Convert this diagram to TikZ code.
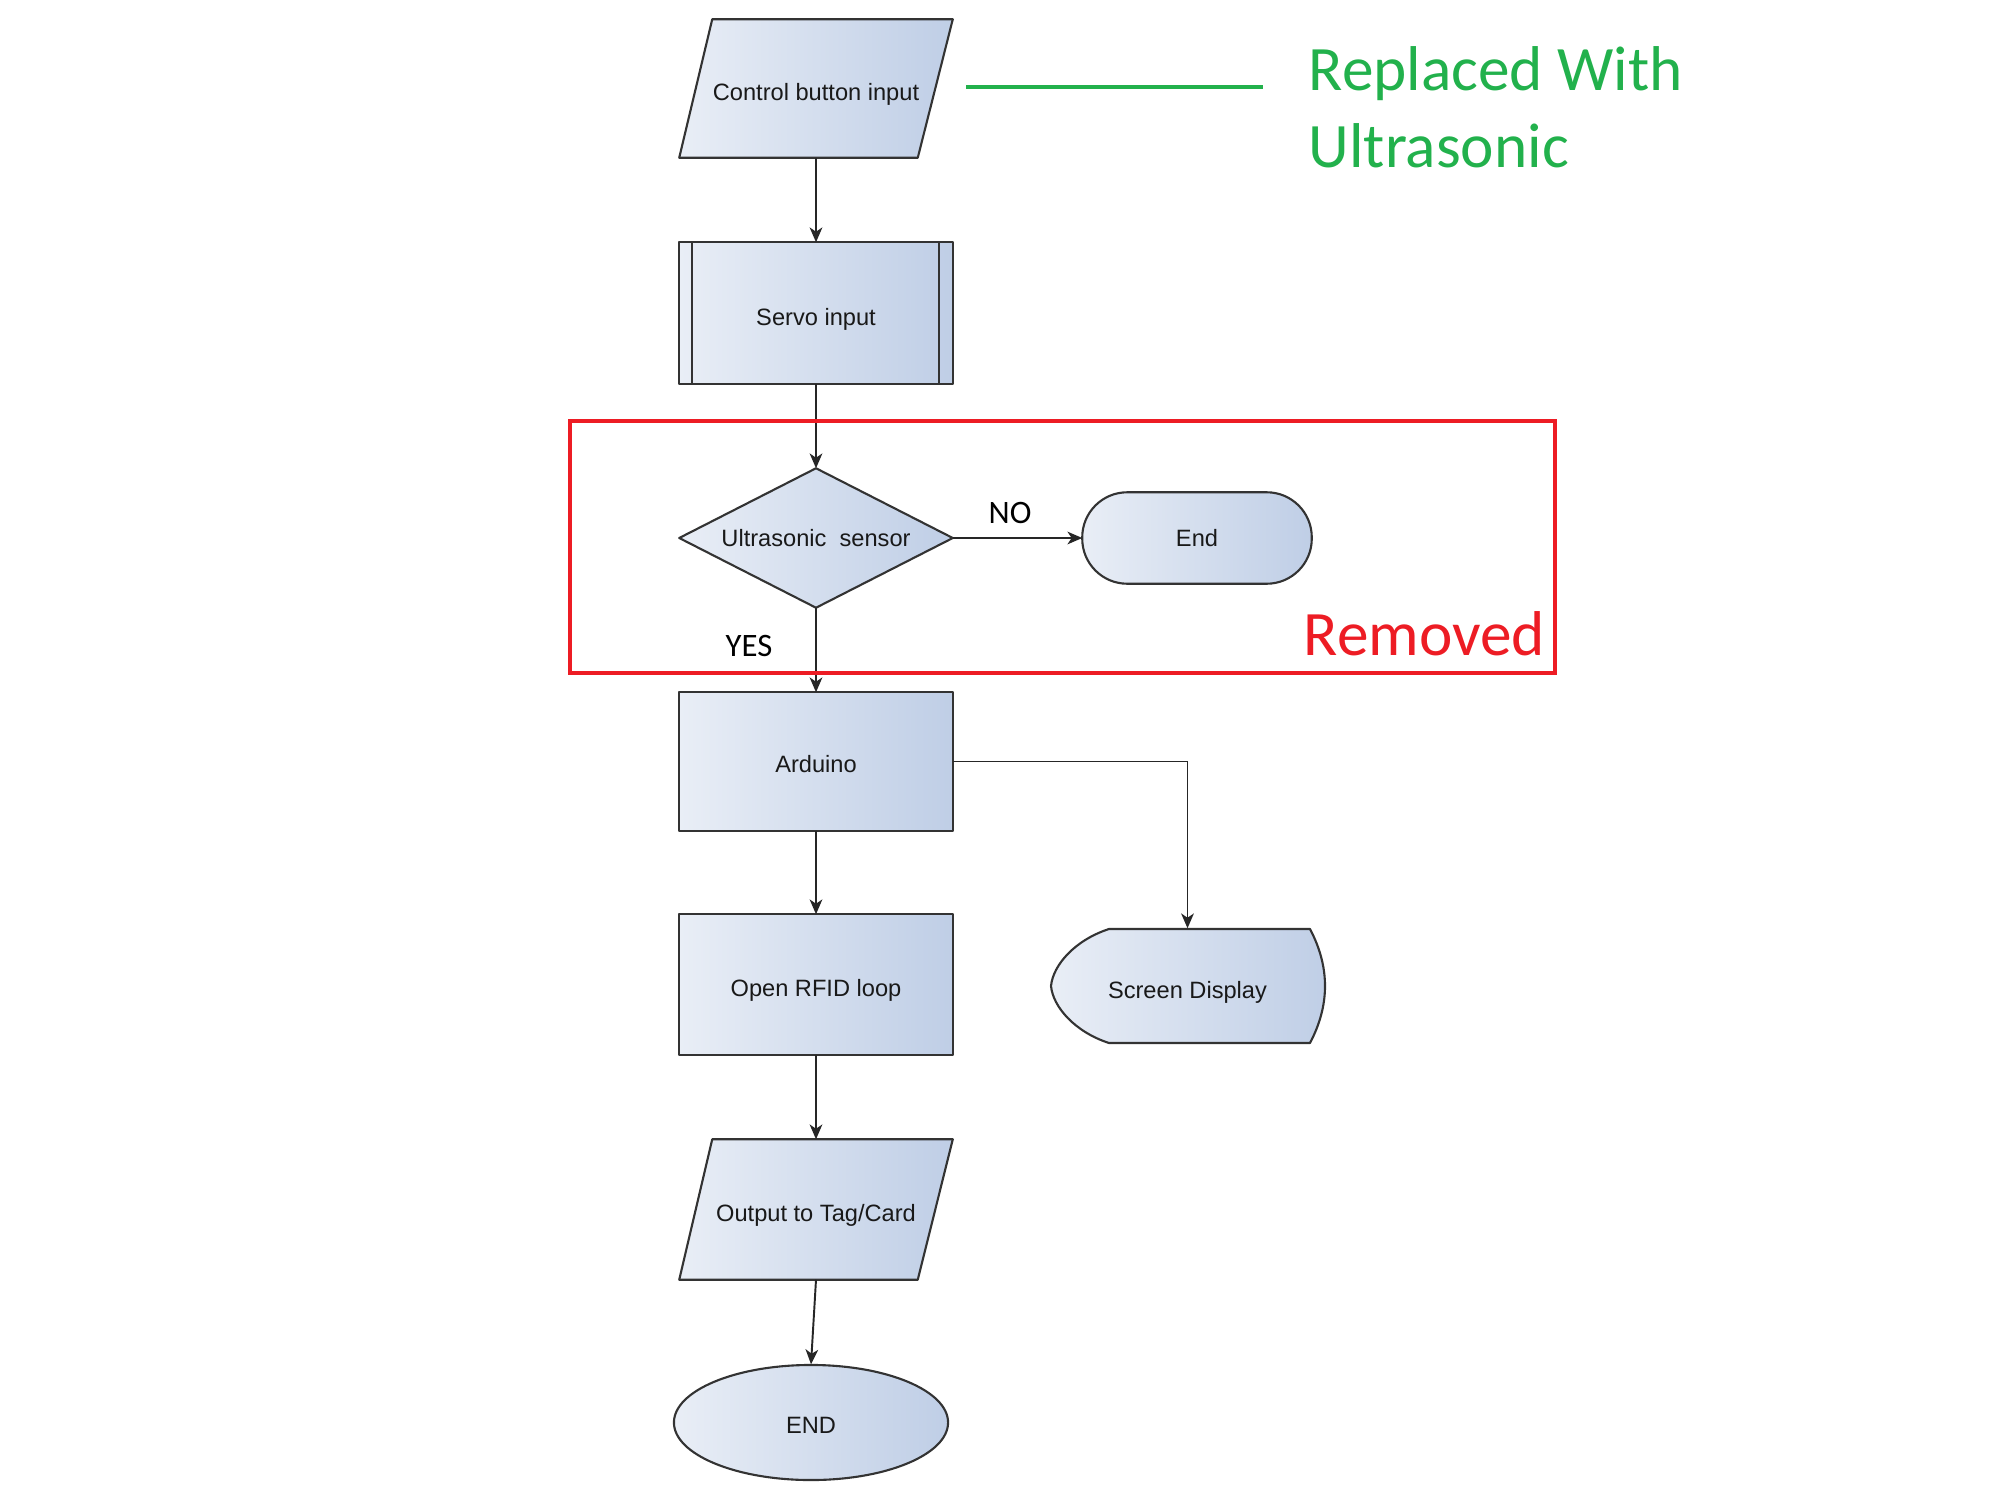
\documentclass[tikz,border=0pt]{standalone}
\usepackage{fontspec}
\setmainfont{Liberation Sans}
\newfontfamily\calib{Carlito}
\usetikzlibrary{arrows.meta,backgrounds,calc}
\definecolor{cL}{HTML}{E9EEF6}
\definecolor{cR}{HTML}{BFCEE6}
\definecolor{cS}{HTML}{333333}
\definecolor{pgreen}{HTML}{22B14C}
\definecolor{pred}{HTML}{ED1C24}
\tikzset{
  lbl/.style={font=\fontsize{6.72}{8}\selectfont, text=black!90, inner sep=0pt, draw=none, rectangle, text height=7pt, text depth=0pt},
  shp/.style={left color=cL, right color=cR, draw=cS, line width=0.6pt, line join=round},
  conn/.style={draw=black!85, line width=0.55pt, -{Stealth[length=4.2pt,width=3.6pt,inset=1.2pt]}},
  yn/.style={font=\calib\fontsize{9.3}{11}\selectfont, inner sep=0pt, text=black},
  note/.style={font=\calib\fontsize{18}{22}\selectfont, anchor=base west, inner sep=0pt},
}
\begin{document}
\begin{tikzpicture}[x=0.01cm,y=-0.01cm]
\useasboundingbox (0,0) rectangle (2000,1500);
% text nodes (bounding boxes of the shapes)
\node[lbl, minimum width=2.72cm, minimum height=1.37cm] (cbi)  at (816,88.5)   {Control button input};
\node[lbl, minimum width=2.72cm, minimum height=1.40cm] (srv)  at (816,313)    {Servo input};
\node[lbl, minimum width=2.72cm, minimum height=1.38cm, text height=5pt] (sens) at (816,538)    {Ultrasonic\ \ sensor};
\node[lbl, minimum width=2.28cm, minimum height=0.90cm, text height=5pt] (endA) at (1197,538)   {End};
\node[lbl, minimum width=2.72cm, minimum height=1.37cm, text height=6.5pt] (ard)  at (816,761.5)  {Arduino};
\node[lbl, minimum width=2.72cm, minimum height=1.39cm] (rfid) at (816,984.5)  {Open RFID loop};
\node[lbl, minimum width=2.73cm, minimum height=1.14cm] (scr)  at (1187.5,986) {Screen Display};
\node[lbl, minimum width=2.72cm, minimum height=1.39cm] (out)  at (816,1209.5) {Output to Tag/Card};
\node[lbl, minimum width=2.74cm, minimum height=1.15cm, text height=6pt] (endB) at (811,1422.5) {END};
% shapes
\begin{pgfonlayer}{background}
  \path[shp] ([xshift=0.33cm]cbi.north west) -- (cbi.north east) -- ([xshift=-0.35cm]cbi.south east) -- (cbi.south west) -- cycle;
  \path[shp] (srv.north west) rectangle (srv.south east);
  \draw[cS, line width=0.6pt] ([xshift=0.13cm]srv.north west) -- ([xshift=0.13cm]srv.south west)
                               ([xshift=-0.14cm]srv.north east) -- ([xshift=-0.14cm]srv.south east);
  \path[shp] (sens.north) -- (sens.east) -- (sens.south) -- (sens.west) -- cycle;
  \path[shp, rounded corners=0.45cm] (endA.north west) rectangle (endA.south east);
  \path[shp] (ard.north west) rectangle (ard.south east);
  \path[shp] (rfid.north west) rectangle (rfid.south east);
  \begin{scope}[shift={(scr.center)}]
    \path[shp] (-136.5,0) .. controls (-134.5,-21) and (-112.5,-46) .. (-78.5,-57)
      -- (122.5,-57) .. controls (142.5,-19) and (142.5,19) .. (122.5,57)
      -- (-78.5,57) .. controls (-112.5,46) and (-134.5,21) .. (-136.5,0) -- cycle;
  \end{scope}
  \path[shp] ([xshift=0.33cm]out.north west) -- (out.north east) -- ([xshift=-0.35cm]out.south east) -- (out.south west) -- cycle;
  \path[shp] (endB.center) ellipse [x radius=1.37cm, y radius=0.575cm];
\end{pgfonlayer}
% connectors
\draw[conn] (cbi.south) -- (srv.north);
\draw[conn] (srv.south) -- (sens.north);
\draw[conn] (sens.east) -- (endA.west);
\draw[conn] (sens.south) -- (ard.north);
\draw[conn] (ard.south) -- (rfid.north);
\draw[conn] (rfid.south) -- (out.north);
\draw[conn] (out.south) -- (endB.north);
\draw[conn] (ard.east) -| (scr.north);
% labels
\node[yn] (no)  at (1010,513) {NO};
\node[yn] (yes) at (749,646)  {YES};
% annotations
\coordinate (g1) at (966,87);
\coordinate (g2) at (1263,87);
\draw[pgreen, line width=1.15pt] (g1) -- (g2);
\node[note, text=pgreen] (gt1) at (1308,91) {Replaced With};
\node[note, text=pgreen] (gt2) at (1308,168) {Ultrasonic};
\coordinate (r1) at (570,421);
\coordinate (r2) at (1555,673);
\draw[pred, line width=1.4pt] (r1) rectangle (r2);
\node[note, text=pred] (rm) at (1303,655) {Removed};
\end{tikzpicture}
\end{document}
